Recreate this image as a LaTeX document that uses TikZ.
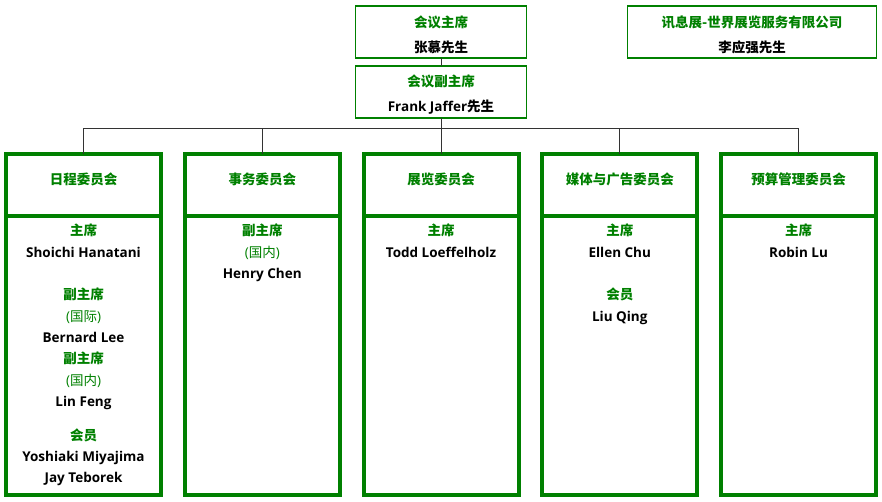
\documentclass[tikz,border=0pt]{standalone}
\usepackage{fontspec}
\setmainfont{Open Sans}
\newfontfamily\cjk{Noto Sans CJK SC}
\usetikzlibrary{positioning}
\definecolor{orggreen}{RGB}{0,128,0}
\newcommand\role[1]{{\cjk\color{orggreen}#1}}
\newcommand\area[1]{{\mdseries\color{orggreen}({\cjk #1})}}

\begin{document}
\begin{tikzpicture}[x=1pt,y=-1pt,
  every node/.style={font=\bfseries\fontsize{13.5}{21.3}\selectfont,align=center,inner sep=0pt,outer sep=0pt},
  topbox/.style={draw=orggreen,line width=1.2pt,minimum height=52pt,font=\bfseries\fontsize{13.5}{25}\selectfont},
  head/.style={draw=orggreen,line width=4pt,minimum width=155pt,minimum height=62pt,text=orggreen,
    text height=8pt,text depth=10pt,font=\bfseries\fontsize{13.5}{21.3}\selectfont\cjk},
  body/.style={draw=orggreen,line width=4pt,minimum width=155pt,minimum height=279pt},
  link/.style={draw=black!80,line width=0.9pt}]
\useasboundingbox (0,0) rectangle (882,501);

% top of the tree
\node[topbox,minimum width=171pt] (chair) at (441,32) {\rule{0pt}{17pt}\role{会议主席}\\{\cjk 张慕先生}};
\node[topbox,minimum width=171pt] (vice) at (441,92) {\rule{0pt}{17pt}\role{会议副主席}\\Frank Jaffer{\cjk 先生}};
\node[topbox,minimum width=249pt] (host) at (752,32) {\rule{0pt}{17pt}\role{讯息展-世界展览服务有限公司}\\{\cjk 李应强先生}};

% committees
\foreach \i/\head/\body in {
  1/日程委员会/{\role{主席}\\Shoichi Hanatani\\[21.5pt]\role{副主席}\\\area{国际}\\Bernard Lee\\\role{副主席}\\\area{国内}\\Lin Feng\\[12.7pt]\role{会员}\\Yoshiaki Miyajima\\Jay Teborek},
  2/事务委员会/{\role{副主席}\\\area{国内}\\Henry Chen},
  3/展览委员会/{\role{主席}\\Todd Loeffelholz},
  4/媒体与广告委员会/{\role{主席}\\Ellen Chu\\[21.5pt]\role{会员}\\Liu Qing},
  5/预算管理委员会/{\role{主席}\\Robin Lu}}
{
  \node[head] (h\i) at ({83.5+178.75*(\i-1)},185) {\head};
  \node[body,below=0pt of h\i] (b\i) {};
  \node[below=8pt of b\i.north] (m\i) {\body};
}

% connectors
\coordinate (bus) at ([yshift=-10pt]vice.south);
\draw[link] (chair) -- (vice);
\draw[link] (vice) -- (bus);
\foreach \i in {1,...,5}
  \draw[link] (bus) -| (h\i);
\end{tikzpicture}
\end{document}
